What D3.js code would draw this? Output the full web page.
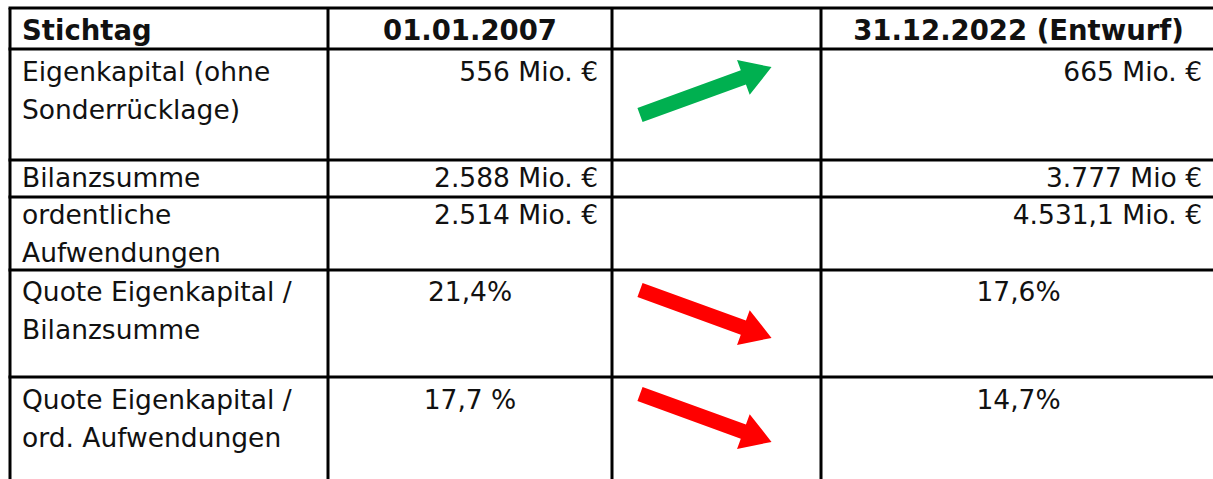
<!DOCTYPE html>
<html>
<head>
<meta charset="utf-8">
<script src="https://cdn.jsdelivr.net/npm/d3@7"></script>
<style>
  html, body { margin: 0; padding: 0; background: #fff; }
  svg text { font-family: "DejaVu Sans", Verdana, sans-serif; fill: #111; }
</style>
</head>
<body>
<div id="chart"></div>
<script>
// table content
var headers = ["Stichtag", "01.01.2007", "", "31.12.2022 (Entwurf)"];
var labels = [
    ["Eigenkapital (ohne", "Sonderrücklage)"],
    ["Bilanzsumme"],
    ["ordentliche", "Aufwendungen"],
    ["Quote Eigenkapital /", "Bilanzsumme"],
    ["Quote Eigenkapital /", "ord. Aufwendungen"]
];
var values2007 = ["556 Mio. €", "2.588 Mio. €", "2.514 Mio. €", "21,4%", "17,7 %"];
var values2022 = ["665 Mio. €", "3.777 Mio €", "4.531,1 Mio. €", "17,6%", "14,7%"];
var trend = ["up", null, null, "down", "down"];

// layout
var width = 1213, height = 479;
var colEdges = [10, 328, 612, 821, 1216];
var rowEdges = [8, 49, 160, 197, 270, 377, 490];
var baseOff = [32, 32, 27, 27, 31, 32];   // first baseline below row top
var arrowDy = [66, 0, 0, 20, 17];         // arrow tail centre below row top
var lineH = 37.5;
var fontSize = 26.5, headSize = 27.5;

var svg = d3.select("#chart").append("svg")
    .attr("width", width)
    .attr("height", height);

var x = function (c) { return colEdges[c]; };
var y = function (r) { return rowEdges[r]; };

// header
var head = svg.append("g").attr("class", "head");
headers.forEach(function (h, c) {
    if (!h) return;
    var t = head.append("text")
        .attr("y", y(0) + baseOff[0])
        .style("font-size", headSize + "px")
        .style("font-weight", "bold")
        .text(h);
    if (c == 0) {
        t.attr("x", x(0) + 12);
    } else {
        t.attr("x", (x(c) + x(c + 1)) / 2).attr("text-anchor", "middle");
    }
});

// body
var body = svg.append("g").attr("class", "body");
labels.forEach(function (lines, i) {
    var r = i + 1;
    var by = y(r) + baseOff[r];
    lines.forEach(function (l, k) {
        body.append("text")
            .attr("x", x(0) + 12)
            .attr("y", by + k * lineH)
            .style("font-size", fontSize + "px")
            .text(l);
    });
    var centered = values2007[i].indexOf("%") >= 0;
    [[1, values2007[i]], [3, values2022[i]]].forEach(function (p) {
        var c = p[0];
        body.append("text")
            .attr("x", centered ? (x(c) + x(c + 1)) / 2 : x(c + 1) - 14)
            .attr("y", by)
            .attr("text-anchor", centered ? "middle" : "end")
            .style("font-size", fontSize + "px")
            .text(p[1]);
    });
});

// arrows
var arrowLen = 140, shaftW = 15, headW = 37, headL = 30;
var arrowPts = [
    [0, -shaftW / 2], [arrowLen - headL, -shaftW / 2], [arrowLen - headL, -headW / 2],
    [arrowLen, 0], [arrowLen - headL, headW / 2], [arrowLen - headL, shaftW / 2], [0, shaftW / 2]
];
svg.append("g").selectAll("path")
    .data(trend.map(function (d, i) { return {dir: d, row: i + 1}; }).filter(function (d) { return d.dir; }))
    .enter().append("path")
    .attr("d", d3.line()(arrowPts) + "Z")
    .attr("fill", function (d) { return d.dir == "up" ? "#00b050" : "#ff0000"; })
    .attr("transform", function (d) {
        var ang = d.dir == "up" ? -20 : 20;
        var cx = 640, cy = y(d.row) + arrowDy[d.row - 1];
        return "translate(" + cx + "," + cy + ") rotate(" + ang + ")";
    });

// grid lines
var grid = svg.append("g").attr("stroke", "#000").attr("stroke-width", 3);
rowEdges.slice(0, rowEdges.length - 1).forEach(function (ry) {
    grid.append("line").attr("x1", x(0) - 1.5).attr("x2", width + 5).attr("y1", ry).attr("y2", ry);
});
colEdges.forEach(function (cx) {
    grid.append("line").attr("x1", cx).attr("x2", cx).attr("y1", y(0)).attr("y2", height + 5);
});
</script>
</body>
</html>
